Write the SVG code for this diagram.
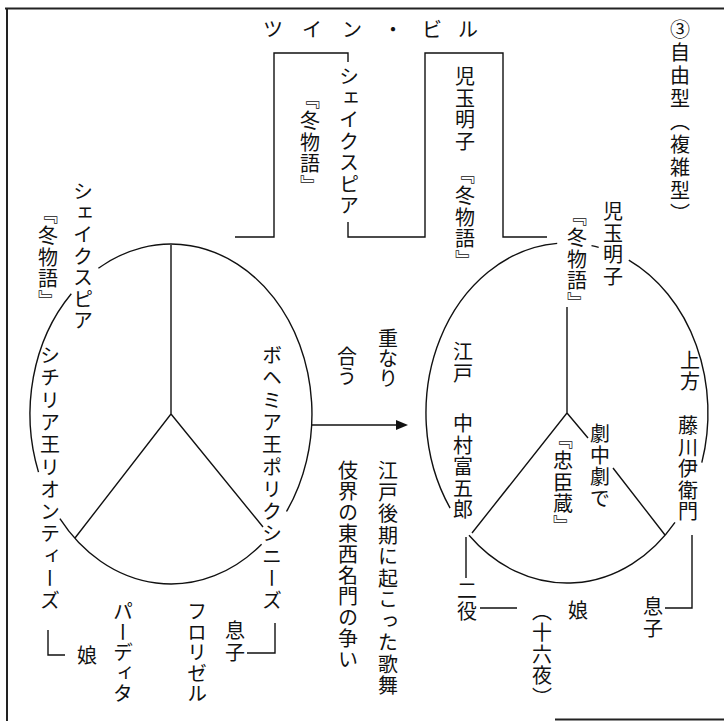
<svg xmlns="http://www.w3.org/2000/svg" width="724" height="721" viewBox="0 0 724 721">
<style>
text{font-family:"Noto Sans CJK JP","Noto Sans CJK SC",sans-serif;font-size:20px;fill:#111;}
.v{writing-mode:vertical-rl;letter-spacing:1.5px;font-feature-settings:"vert" 1;}
.w{letter-spacing:2.3px;}
.n{letter-spacing:0.5px;}
.ln{fill:none;stroke:#111;stroke-width:1.4;}
.bd{fill:none;stroke:#222;stroke-width:2;}
</style>
<rect width="724" height="721" fill="#fff"/>
<g id="border">
<path class="bd" d="M5 8.5H724M7 8V721M555 719.5H724"/>
</g>
<g id="title">
<text x="273 312 352 393 432 468" y="37" text-anchor="middle">ツイン・ビル</text>
<text class="v" x="680" y="19" style="letter-spacing:3px">③自由型（複雑型）</text>
</g>
<g id="connectors">
<path class="ln" d="M235 237H274V53H348V62M348 222V237H425V53H503V237H547"/>
<path class="ln" d="M98.4 268.3A141 170 0 0 1 286.5 511.5"/>
<path class="ln" d="M261.6 544.2A141 170 0 0 1 59.9 518.7"/>
<path class="ln" d="M38.5 472.1A141 170 0 0 1 71.3 293.8"/>
<path class="ln" d="M171 245V414L75 538M171 414L263 527"/>
<path class="ln" d="M48 630V655H65M275 623V653H247"/>
<path class="ln" d="M450.1 508.1A141 170 0 0 1 557.2 243.4"/>
<path class="ln" d="M591.5 245.6A141 170 0 0 1 598.7 247.4"/>
<path class="ln" d="M628.8 260.2A141 170 0 0 1 701.8 462.7"/>
<path class="ln" d="M675 522.3A141 170 0 0 1 469 535.3"/>
<path class="ln" d="M567 307V413L472 533M567 413L588 438M613 468L665 535"/>
<path class="ln" d="M466 537V578M480 608H517M692 535V608H665"/>
<path class="ln" d="M312 425H398"/>
<polygon points="408,425 396,420 396,430" fill="#111"/>
</g>
<g id="twin-left">
<text class="v" x="349" y="66.5">シェイクスピア</text>
<text class="v" x="310" y="89">『冬物語』</text>
</g>
<g id="twin-right">
<text class="v" x="465" y="66.5">児玉明子</text>
<text class="v" x="465" y="164">『冬物語』</text>
</g>
<g id="left-circle">
<text class="v" x="83" y="181.5">シェイクスピア</text>
<text class="v" x="48" y="204">『冬物語』</text>
<text class="v w" x="50" y="345.5">シチリア王リオンティーズ</text>
<text class="v w" x="272" y="345.5">ボヘミア王ポリクシニーズ</text>
<text class="v" x="87" y="645">娘</text>
<text class="v" x="235" y="620.5">息子</text>
<text class="v n" x="123" y="601.5">パーディタ</text>
<text class="v n" x="197" y="601.5">フロリゼル</text>
</g>
<g id="middle">
<text class="v" x="388" y="328" style="letter-spacing:0">重なり</text>
<text class="v" x="347" y="346" style="letter-spacing:0">合う</text>
<text class="v" x="388" y="460.5">江戸後期に起こった歌舞</text>
<text class="v" x="348" y="460.5" style="letter-spacing:1px">伎界の東西名門の争い</text>
</g>
<g id="right-circle">
<text class="v" x="613" y="201.5">児玉明子</text>
<text class="v" x="577" y="206">『冬物語』</text>
<text class="v" x="463" y="341.5">江戸</text>
<text class="v" x="463" y="413.5">中村富五郎</text>
<text class="v" x="690" y="350">上方</text>
<text class="v" x="688" y="415.5">藤川伊衛門</text>
<text class="v" x="600" y="423.5">劇中劇で</text>
<text class="v" x="563" y="429">『忠臣蔵』</text>
<text class="v" x="467" y="580">二役</text>
<text class="v" x="578" y="600">娘</text>
<text class="v" x="542" y="601">（十六夜）</text>
<text class="v" x="653" y="596.5">息子</text>
</g>
</svg>
